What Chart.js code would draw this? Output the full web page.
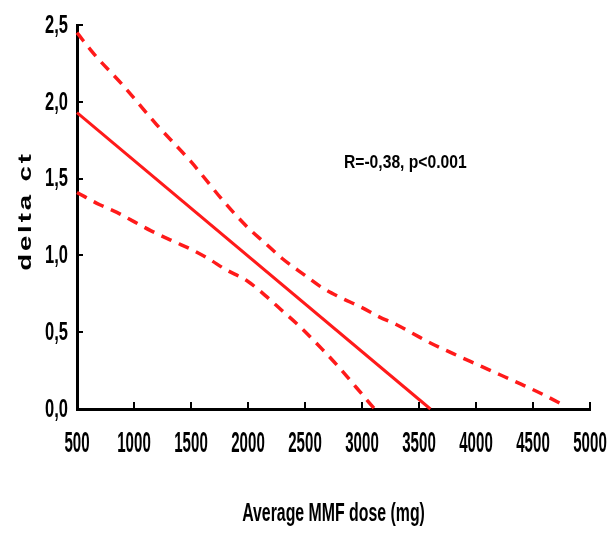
<!DOCTYPE html>
<html>
<head>
<meta charset="utf-8">
<script src="https://cdn.jsdelivr.net/npm/chart.js@4/dist/chart.umd.min.js"></script>
<style>
  html, body { margin: 0; padding: 0; background: #fff; }
  #wrap { width: 610px; height: 535px; }
</style>
</head>
<body>
<div id="wrap"><canvas id="c" width="610" height="535"></canvas></div>
<script>
// Regression of delta ct on average MMF dose, with its confidence band
const fitDose = [500, 3600];
const fitDelta = [1.93, 0.0];

const upperDose = [500, 650, 900, 1200, 1500, 1800, 2000, 2150, 2300, 2500, 2650, 2800, 3000, 3150, 3300, 3450, 3600, 3800, 3950, 4100, 4250, 4400, 4600, 4780];
const upperDelta = [2.45, 2.31, 2.11, 1.85, 1.61, 1.34, 1.18, 1.08, 0.98, 0.87, 0.79, 0.73, 0.66, 0.60, 0.55, 0.49, 0.43, 0.36, 0.31, 0.26, 0.21, 0.16, 0.09, 0.02];

const lowerDose = [500, 700, 850, 1000, 1150, 1350, 1500, 1650, 1800, 2000, 2150, 2300, 2450, 2650, 2800, 2950, 3110];
const lowerDelta = [1.41, 1.33, 1.28, 1.22, 1.16, 1.09, 1.04, 0.98, 0.91, 0.83, 0.74, 0.64, 0.54, 0.39, 0.27, 0.14, 0.0];

const xTickLabels = ['500', '1000', '1500', '2000', '2500', '3000', '3500', '4000', '4500', '5000'];
const yTickLabels = ['0,0', '0,5', '1,0', '1,5', '2,0', '2,5'];

const xTitle = 'Average MMF dose (mg)';
const yTitle = 'delta ct';
const statText = 'R=-0,38, p<0.001';

const FAMILY = "'Liberation Sans', Arial, sans-serif";
const RED = '#ff1a1a';

const toPoints = (xs, ys) => xs.map((x, i) => ({ x: x, y: ys[i] }));

// Text in a condensed face: the glyphs are squeezed horizontally by sx
function condensedText(ctx, text, x, y, size, sx, align) {
  ctx.save();
  ctx.font = 'bold ' + size + 'px ' + FAMILY;
  ctx.fillStyle = '#000';
  ctx.textBaseline = 'middle';
  ctx.textAlign = align;
  ctx.translate(x, y);
  ctx.scale(sx, 1);
  ctx.fillText(text, 0, 0);
  ctx.restore();
}

// Inward tick marks, tick labels, axis titles and the correlation statistic
const extras = {
  id: 'extras',
  afterDraw(chart) {
    const { ctx, chartArea, scales } = chart;
    const xs = scales.x, ys = scales.y;
    ctx.save();
    ctx.strokeStyle = '#000';
    ctx.lineWidth = 2;
    xs.ticks.forEach(t => {
      const px = Math.round(xs.getPixelForValue(t.value));
      ctx.beginPath();
      ctx.moveTo(px, chartArea.bottom);
      ctx.lineTo(px, chartArea.bottom - 7);
      ctx.stroke();
    });
    ys.ticks.forEach(t => {
      const py = Math.round(ys.getPixelForValue(t.value));
      ctx.beginPath();
      ctx.moveTo(chartArea.left, py);
      ctx.lineTo(chartArea.left + 6, py);
      ctx.stroke();
    });
    ctx.restore();

    xs.ticks.forEach((t, i) => {
      condensedText(ctx, xTickLabels[i], xs.getPixelForValue(t.value), chartArea.bottom + 35, 29, 0.52, 'center');
    });
    ys.ticks.forEach((t, i) => {
      condensedText(ctx, yTickLabels[i], chartArea.left - 9, ys.getPixelForValue(t.value) + 1, 25, 0.66, 'right');
    });

    condensedText(ctx, xTitle, (chartArea.left + chartArea.right) / 2, 514, 26, 0.61, 'center');
    condensedText(ctx, statText, xs.getPixelForValue(3380), ys.getPixelForValue(1.6), 18, 0.87, 'center');

    // y title, drawn stretched along its length
    ctx.save();
    ctx.fillStyle = '#000';
    ctx.font = 'bold 19px ' + FAMILY;
    ctx.textAlign = 'center';
    ctx.textBaseline = 'middle';
    ctx.translate(26, (chartArea.top + chartArea.bottom) / 2 - 6);
    ctx.rotate(-Math.PI / 2);
    ctx.scale(1.45, 1);
    ctx.letterSpacing = '2px';
    ctx.fillText(yTitle, 0, 0);
    ctx.restore();
  }
};

new Chart(document.getElementById('c'), {
  type: 'scatter',
  data: {
    datasets: [
      {
        data: toPoints(fitDose, fitDelta),
        showLine: true,
        borderColor: RED,
        borderWidth: 3,
        pointRadius: 0,
        clip: false
      },
      {
        data: toPoints(upperDose, upperDelta),
        showLine: true,
        borderColor: RED,
        borderWidth: 3.5,
        borderDash: [11, 8],
        cubicInterpolationMode: 'monotone',
        pointRadius: 0,
        clip: false
      },
      {
        data: toPoints(lowerDose, lowerDelta),
        showLine: true,
        borderColor: RED,
        borderWidth: 3.5,
        borderDash: [11, 8],
        cubicInterpolationMode: 'monotone',
        pointRadius: 0,
        clip: false
      }
    ]
  },
  options: {
    responsive: false,
    animation: false,
    layout: { padding: { top: 25, right: 20, bottom: 0, left: 0 } },
    plugins: { legend: { display: false }, tooltip: { enabled: false } },
    scales: {
      x: {
        type: 'linear',
        min: 500,
        max: 5000,
        afterBuildTicks: s => { s.ticks = xTickLabels.map(v => ({ value: Number(v) })); },
        afterFit: s => { s.height = 126; },
        grid: { display: false, drawTicks: false },
        border: { display: true, color: '#000', width: 3 },
        ticks: { display: false }
      },
      y: {
        type: 'linear',
        min: 0,
        max: 2.5,
        afterBuildTicks: s => { s.ticks = yTickLabels.map((v, i) => ({ value: i * 0.5 })); },
        afterFit: s => { s.width = 77; },
        grid: { display: false, drawTicks: false },
        border: { display: true, color: '#000', width: 3 },
        ticks: { display: false }
      }
    }
  },
  plugins: [extras]
});
</script>
</body>
</html>
